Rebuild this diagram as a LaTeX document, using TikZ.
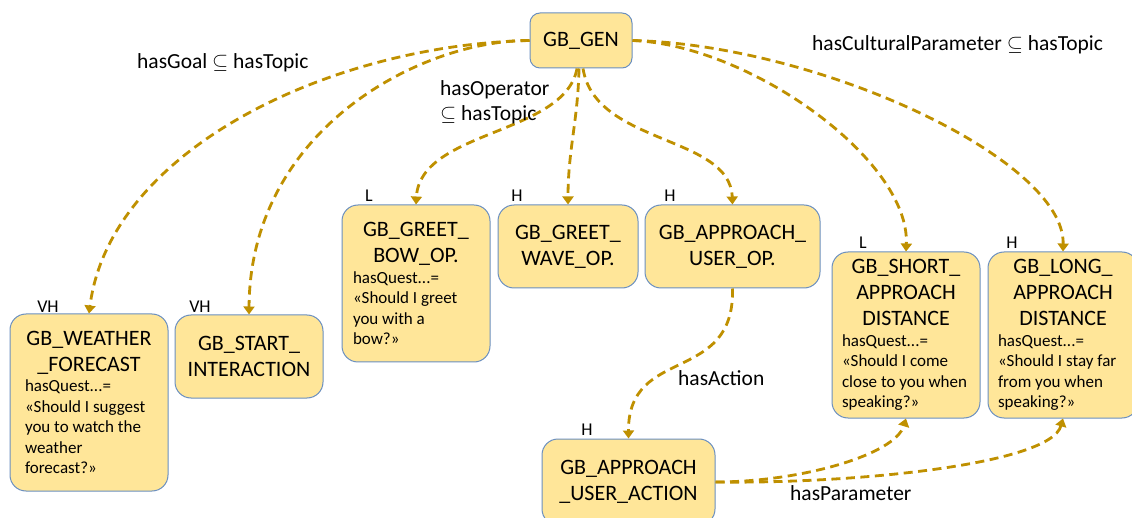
\documentclass[tikz,border=0pt]{standalone}
\usepackage{fontspec}
\setmainfont{Carlito}
\usetikzlibrary{arrows.meta}
\definecolor{gold}{HTML}{BF9000}
\definecolor{boxfill}{HTML}{FFE699}
\definecolor{boxline}{HTML}{6A8FC0}
\newcommand{\ttl}{\fontsize{22}{26}\selectfont}
\newcommand{\sml}{\fontsize{17}{20.5}\selectfont}
\tikzset{
  gbox/.style={draw=boxline, fill=boxfill, line width=1pt, rounded corners=16pt,
    inner sep=0pt, align=center, font=\ttl},
  rel/.style={draw=gold, line width=2.8pt, dash pattern=on 9pt off 5.5pt,
    -{Triangle[width=11pt,length=8pt]}},
  lbl/.style={font=\fontsize{21.5}{25}\selectfont, inner sep=0pt, align=left},
  lvl/.style={font=\fontsize{18}{20}\selectfont, inner sep=0pt},
}
\begin{document}
\begin{tikzpicture}[x=1pt,y=-1pt]
\useasboundingbox (0,0) rectangle (1132,518);
\clip (0,0) rectangle (1132,518);
% boxes
\node[gbox, rounded corners=10pt, minimum width=102pt, minimum height=55pt] (gen) at (581,40.5) {GB\_GEN};
\node[gbox, minimum width=158pt, minimum height=177pt] (wf) at (89,402.5)
  {\parbox{128pt}{\centering\ttl GB\_WEATHER\\\_FORECAST\par\raggedright\sml hasQuest...=\\«Should I suggest\\you to watch the\\weather\\forecast?»\par}};
\node[gbox, minimum width=148pt, minimum height=83pt] (si) at (249,356.5) {GB\_START\_\\INTERACTION};
\node[gbox, minimum width=148pt, minimum height=157pt] (bow) at (416,283.5)
  {\parbox{126pt}{\centering\ttl GB\_GREET\_\\BOW\_OP.\par\raggedright\sml hasQuest...=\\«Should I greet\\you with a\\bow?»\par}};
\node[gbox, minimum width=140pt, minimum height=83pt] (wave) at (568,246.5) {GB\_GREET\_\\WAVE\_OP.};
\node[gbox, minimum width=175pt, minimum height=83pt] (appr) at (732.5,246.5) {GB\_APPROACH\_\\USER\_OP.};
\node[gbox, minimum width=148pt, minimum height=166pt] (short) at (906,335)
  {\parbox{128pt}{\centering\ttl GB\_SHORT\_\\APPROACH\\DISTANCE\par\raggedright\sml hasQuest...=\\«Should I come\\close to you when\\speaking?»\par}};
\node[gbox, minimum width=150pt, minimum height=166pt] (long) at (1063,335)
  {\parbox{130pt}{\centering\ttl GB\_LONG\_\\APPROACH\\DISTANCE\par\raggedright\sml hasQuest...=\\«Should I stay far\\from you when\\speaking?»\par}};
\node[gbox, minimum width=173pt, minimum height=86pt] (act) at (628.5,482) {GB\_APPROACH\\\_USER\_ACTION};
% level labels
\node[lvl] (lwf) at (48,307) {VH};
\node[lvl] (lsi) at (200,307) {VH};
\node[lvl] (lbow) at (369,196) {L};
\node[lvl] (lwave) at (517,196) {H};
\node[lvl] (lappr) at (670,196) {H};
\node[lvl] (lshort) at (863,243) {L};
\node[lvl] (llong) at (1012,243) {H};
\node[lvl] (lact) at (587,430) {H};
% connectors
\draw[rel] (gen.west) .. controls (330,45) and (110,150) .. (wf.north);
\draw[rel] (gen.west) .. controls (420,40) and (250,130) .. (si.north);
\draw[rel] ([xshift=-4pt]gen.south) .. controls (565,135) and (420,130) .. (bow.north);
\draw[rel] ([xshift=-2pt]gen.south) .. controls (578,120) and (568,150) .. (wave.north);
\draw[rel] ([xshift=2pt]gen.south) .. controls (595,145) and (730,135) .. (appr.north);
\draw[rel] (gen.east) .. controls (750,45) and (910,160) .. (short.north);
\draw[rel] (gen.east) .. controls (820,45) and (1065,160) .. (long.north);
\draw[rel] (appr.south) .. controls (735,385) and (628,345) .. (act.north);
\draw[rel] (act.east) .. controls (800,482) and (895,455) .. (short.south);
\draw[rel] (act.east) .. controls (850,484) and (1050,465) .. (long.south);
% edge labels
\node[lbl, anchor=west] (lgoal) at (137,63) {hasGoal $\subseteq$ hasTopic};
\node[lbl, anchor=west] (lop) at (440,102.5) {hasOperator\\$\subseteq$ hasTopic};
\node[lbl, anchor=west] (lcult) at (812,45) {hasCulturalParameter $\subseteq$ hasTopic};
\node[lbl, anchor=west] (lacti) at (678,378) {hasAction};
\node[lbl, anchor=west] (lpar) at (790,493) {hasParameter};
\end{tikzpicture}
\end{document}
